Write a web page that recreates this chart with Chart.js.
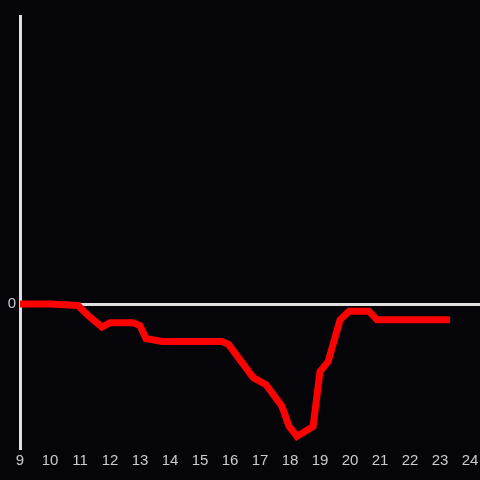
<!DOCTYPE html>
<html>
<head>
<meta charset="utf-8">
<script src="https://cdn.jsdelivr.net/npm/chart.js@4/dist/chart.umd.min.js"></script>
<style>
  html, body { margin: 0; padding: 0; background: #050408; }
  canvas { display: block; }
</style>
</head>
<body>
<canvas id="chart" width="480" height="480"></canvas>
<script>
// ─── Data ────────────────────────────────────────────────────────
const hours = [8.75, 9, 10, 10.93, 11.27, 11.73, 12, 12.77, 13, 13.2, 13.73, 15.73, 15.95,
               16.77, 17.2, 17.73, 17.97, 18.23, 18.77, 19, 19.27, 19.67, 19.97, 20.63, 20.9, 23.33];
const values = [0, 0, 0, -0.01, -0.08, -0.16, -0.13, -0.13, -0.15, -0.24, -0.26, -0.26, -0.28,
                -0.51, -0.56, -0.71, -0.85, -0.92, -0.85, -0.47, -0.40, -0.11, -0.05, -0.05, -0.11, -0.11];
const xTicks = [9, 10, 11, 12, 13, 14, 15, 16, 17, 18, 19, 20, 21, 22, 23, 24];
const yTicks = [0];

const AXIS = "#e0e0e0";
const LABEL = "#cccccc";

const points = hours.map((h, i) => ({ x: h, y: values[i] }));

new Chart(document.getElementById("chart"), {
  type: "line",
  data: {
    datasets: [{
      data: points,
      borderColor: "#ff0000",
      borderWidth: 7,
      pointRadius: 0,
      tension: 0,
      fill: false,
    }],
  },
  options: {
    responsive: false,
    animation: false,
    layout: { padding: { top: 16, right: 0, left: 0, bottom: 0 } },
    plugins: { legend: { display: false }, tooltip: { enabled: false } },
    scales: {
      x: {
        type: "linear",
        min: 9,
        max: 24 + 1 / 3,
        afterBuildTicks: (s) => { s.ticks = xTicks.map(v => ({ value: v })); },
        afterFit: (s) => { s.height = 32; s.paddingLeft = 0; s.paddingRight = 0; },
        grid: { display: false, drawTicks: false },
        border: { display: false },
        ticks: { color: LABEL, font: { size: 15 }, padding: 4, maxRotation: 0, autoSkip: false },
      },
      y: {
        min: -1,
        max: 2,
        afterBuildTicks: (s) => { s.ticks = yTicks.map(v => ({ value: v })); },
        afterFit: (s) => { s.width = 20; },
        grid: {
          color: (c) => (c.tick && c.tick.value === 0 ? AXIS : "transparent"),
          lineWidth: 3,
          drawTicks: false,
        },
        border: { display: true, color: AXIS, width: 3 },
        ticks: { color: LABEL, font: { size: 15 }, padding: 4 },
      },
    },
  },
});
</script>
</body>
</html>
